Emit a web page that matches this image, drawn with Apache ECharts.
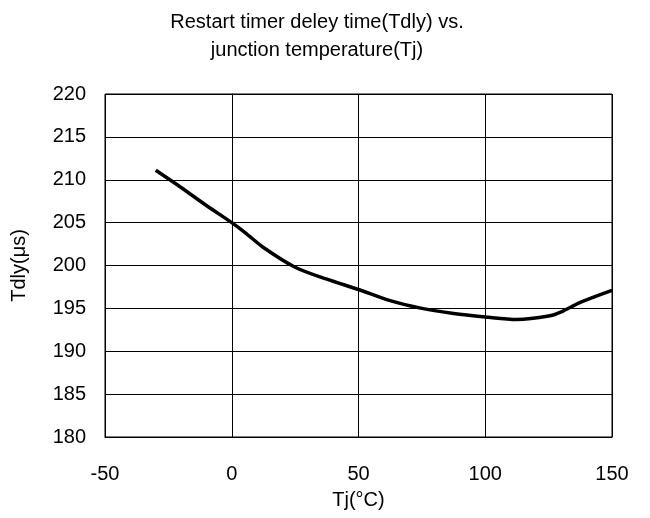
<!DOCTYPE html>
<html><head><meta charset="utf-8">
<script src="https://cdn.jsdelivr.net/npm/echarts@6/dist/echarts.min.js"></script>
<style>html,body{margin:0;padding:0;background:#fff}#c{width:650px;height:518px}</style>
</head><body><div id="c"></div>
<script>
const tempC = [-30, -20, -10, 0, 5, 12.5, 25, 37.5, 50, 62.5, 75, 87.5, 100, 112.5, 125, 130, 137.5, 150];
const tdly  = [211.1, 209.1, 207.0, 205.0, 203.9, 202.1, 199.8, 198.4, 197.2, 195.9, 195.0, 194.4, 194.0, 193.7, 194.1, 194.6, 195.7, 197.1];
const titleLines = ['Restart timer deley time(Tdly) vs.', 'junction temperature(Tj)'];
const xName = 'Tj(°C)';
const yName = 'Tdly(μs)';

const chart = echarts.init(document.getElementById('c'), null, {renderer: 'canvas'});
const font = 'Liberation Sans, Arial, sans-serif';
chart.setOption({
  animation: false,
  backgroundColor: '#fff',
  graphic: titleLines.map((t, i) => ({
    type: 'text', x: 317, y: 22 + i * 28,
    style: {text: t, fontFamily: font, fontSize: 20, fill: '#000', textAlign: 'center', textVerticalAlign: 'middle'}
  })),
  grid: {left: 105, right: 38, top: 94, bottom: 81, show: true, borderColor: '#000', borderWidth: 1},
  xAxis: {
    type: 'value', min: -50, max: 150, interval: 50,
    name: xName, nameLocation: 'middle', nameGap: 53,
    nameTextStyle: {fontFamily: font, fontSize: 20, color: '#000'},
    axisLine: {show: true, lineStyle: {color: '#000'}},
    axisTick: {show: false},
    axisLabel: {fontFamily: font, fontSize: 20, color: '#000', margin: 27},
    splitLine: {show: true, lineStyle: {color: '#000', width: 1}}
  },
  yAxis: {
    type: 'value', min: 180, max: 220, interval: 5,
    name: yName, nameLocation: 'middle', nameGap: 76,
    nameTextStyle: {fontFamily: font, fontSize: 20, color: '#000'},
    axisLine: {show: true, lineStyle: {color: '#000'}},
    axisTick: {show: false},
    axisLabel: {fontFamily: font, fontSize: 20, color: '#000', margin: 19},
    splitLine: {show: true, lineStyle: {color: '#000', width: 1}}
  },
  series: [{
    type: 'line',
    data: tempC.map((t, i) => [t, tdly[i]]),
    showSymbol: false,
    smooth: 0.3,
    lineStyle: {color: '#000', width: 3.5}
  }]
});
</script></body></html>
